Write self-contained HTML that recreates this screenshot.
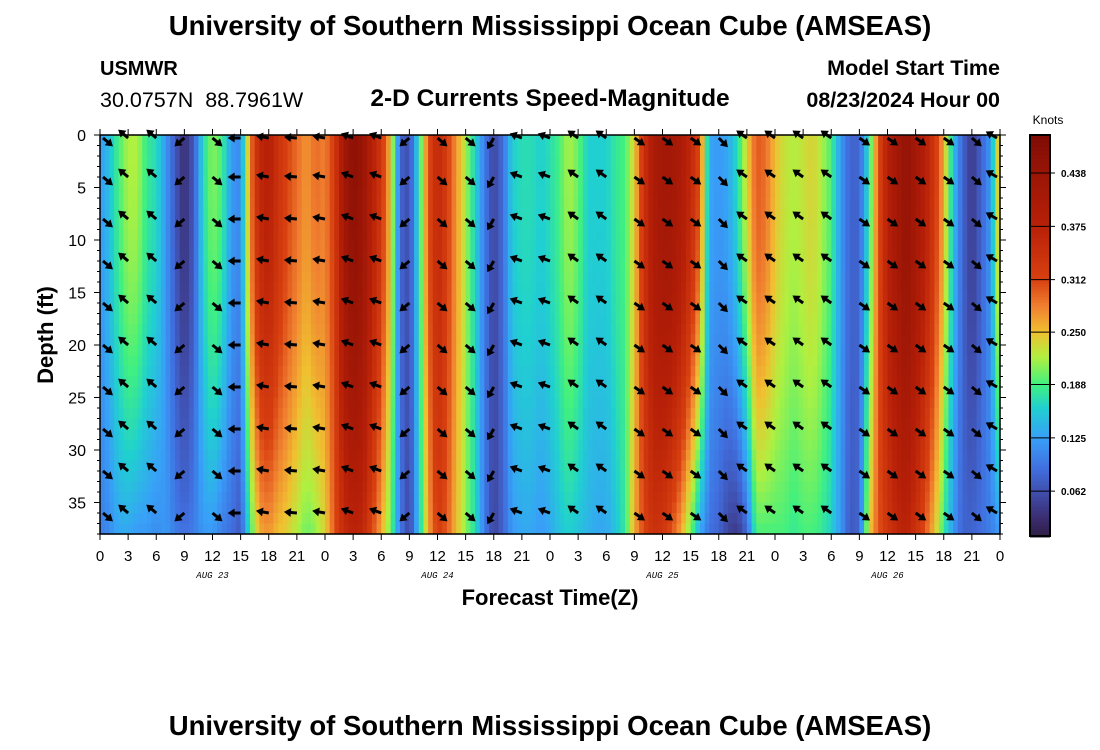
<!DOCTYPE html>
<html><head><meta charset="utf-8">
<style>
body{margin:0;background:#fff;width:1100px;height:750px;overflow:hidden;font-family:"Liberation Sans",sans-serif;}
svg{display:block}
</style></head>
<body>
<svg id="chart" width="1100" height="750">
<g font-family="Liberation Sans, sans-serif" fill="#000">
<text x="550" y="35" text-anchor="middle" font-size="27.5" font-weight="bold">University of Southern Mississippi Ocean Cube (AMSEAS)</text>
<text x="100" y="75" font-size="20" font-weight="bold">USMWR</text>
<text x="100" y="107" font-size="21.5" xml:space="preserve">30.0757N  88.7961W</text>
<text x="550" y="106" text-anchor="middle" font-size="24.5" font-weight="bold">2-D Currents Speed-Magnitude</text>
<text x="1000" y="75" text-anchor="end" font-size="21.5" font-weight="bold">Model Start Time</text>
<text x="1000" y="107" text-anchor="end" font-size="21.5" font-weight="bold">08/23/2024 Hour 00</text>
<text x="550" y="605" text-anchor="middle" font-size="22" font-weight="bold">Forecast Time(Z)</text>
<text transform="translate(53,335) rotate(-90)" text-anchor="middle" font-size="22" font-weight="bold">Depth (ft)</text>
<text x="550" y="735" text-anchor="middle" font-size="27.5" font-weight="bold">University of Southern Mississippi Ocean Cube (AMSEAS)</text>
<text x="1048" y="124" text-anchor="middle" font-size="12">Knots</text>
</g>
<g id="heat"></g>
<g id="arrows"></g>
<g id="axes"></g>
<g id="cbar"></g>
</svg>
<script>
// speed (knots) per forecast hour 0..96, near surface and near bottom
const hours = Array.from({length:97},(_, i)=>i);
const speedTop = [0.12,0.15,0.19,0.22,0.22,0.18,0.17,0.12,0.07,0.03,0.07,0.17,0.21,0.19,0.12,0.11,
 0.28,0.36,0.38,0.34,0.31,0.29,0.27,0.29,0.28,0.32,0.42,0.46,0.44,0.38,0.33,0.25,0.08,0.06,0.17,0.30,
 0.36,0.32,0.27,0.22,0.16,0.10,0.05,0.09,0.16,0.17,0.17,0.16,
 0.17,0.19,0.22,0.20,0.16,0.16,0.16,0.18,0.19,0.24,0.34,0.40,0.42,0.42,0.40,0.36,0.30,0.13,0.12,0.13,
 0.17,0.24,0.30,0.29,0.25,0.23,0.22,0.23,0.24,0.22,0.19,0.12,0.08,0.08,0.17,0.30,0.38,0.42,0.45,0.42,
 0.38,0.33,0.26,0.15,0.08,0.04,0.08,0.12,0.28];
const speedBottom = [0.10,0.11,0.13,0.13,0.12,0.12,0.11,0.12,0.10,0.09,0.10,0.12,0.12,0.10,0.09,0.07,
 0.18,0.26,0.27,0.25,0.24,0.22,0.20,0.21,0.24,0.30,0.35,0.37,0.36,0.31,0.26,0.20,0.10,0.05,0.15,0.26,
 0.32,0.30,0.25,0.21,0.17,0.10,0.05,0.08,0.12,0.13,0.13,0.12,
 0.13,0.15,0.16,0.15,0.14,0.13,0.13,0.15,0.18,0.26,0.31,0.34,0.33,0.30,0.26,0.20,0.13,0.09,0.08,0.05,
 0.04,0.08,0.19,0.19,0.19,0.19,0.18,0.19,0.19,0.18,0.16,0.12,0.07,0.08,0.24,0.30,0.33,0.36,0.37,0.34,
 0.30,0.25,0.18,0.12,0.08,0.08,0.09,0.10,0.12];
// arrow direction (degrees, math convention) per 3-hour column 0..96
const arrowHours = [0,3,6,9,12,15,18,21,24,27,30,33,36,39,42,45,48,51,54,57,60,63,66,69,72,75,78,81,84,87,90,93,96];
const arrowDir = [-40,140,140,220,-40,180,170,175,170,160,160,220,-40,-40,240,160,160,145,145,-35,-35,-35,-45,145,145,145,145,-35,-35,-35,-35,-40,150];
const arrowDepths = [0,4,8,12,16,20,24,28,32,36];
const yTicks = [0,5,10,15,20,25,30,35];
const xTickLabels = ["0","3","6","9","12","15","18","21","0","3","6","9","12","15","18","21","0","3","6","9","12","15","18","21","0","3","6","9","12","15","18","21","0"];
const dayLabels = ["AUG 23","AUG 24","AUG 25","AUG 26"];
const dayHours = [12,36,60,84];
const cbarTicks = [0.062,0.125,0.188,0.250,0.312,0.375,0.438];

const NS="http://www.w3.org/2000/svg";
const X0=100,X1=1000,Y0=135,Y1=534,DMAX=38,HMAX=96;
const xs=h=>X0+(X1-X0)*h/HMAX;
const ys=d=>Y0+(Y1-Y0)*d/DMAX;
// colormap stops
const cmapV=[0.005,0.03,0.062,0.09,0.125,0.16,0.188,0.22,0.25,0.28,0.312,0.375,0.438,0.49];
const cmapC=[[46,26,64],[58,45,112],[64,80,176],[64,112,224],[56,160,248],[32,208,208],[64,240,128],[176,240,64],[240,192,48],[240,128,48],[216,64,16],[184,32,8],[154,21,6],[122,10,5]];
function cmap(v){
 if(v<=cmapV[0])return `rgb(${cmapC[0]})`;
 for(let i=1;i<cmapV.length;i++){if(v<=cmapV[i]){const f=(v-cmapV[i-1])/(cmapV[i]-cmapV[i-1]);
  const c=cmapC[i-1].map((a,k)=>Math.round(a+(cmapC[i][k]-a)*f));return `rgb(${c})`;}}
 return `rgb(${cmapC[cmapC.length-1]})`;}
function mk(tag,attrs,parent){const e=document.createElementNS(NS,tag);for(const k in attrs)e.setAttribute(k,attrs[k]);parent.appendChild(e);return e;}

const heat=document.getElementById('heat');
const SUB=2;
for(let i=0;i<HMAX*SUB;i++){
 const h=(i+0.5)/SUB, h0=Math.floor(h), f=h-h0, h1=Math.min(HMAX,h0+1);
 const top=speedTop[h0]*(1-f)+speedTop[h1]*f;
 const bot=speedBottom[h0]*(1-f)+speedBottom[h1]*f;
 for(let d=0;d<DMAX;d++){
  const t=Math.pow((d+0.5)/DMAX,2);
  const v=top+(bot-top)*t;
  const r=mk('rect',{x:xs(i/SUB).toFixed(2),y:ys(d).toFixed(2),width:(xs(1/SUB)-X0+0.6).toFixed(2),height:(ys(1)-Y0+0.6).toFixed(2),fill:cmap(v)},heat);
  
  
 }
}
const arrows=document.getElementById('arrows');
arrowHours.forEach((h,i)=>{arrowDepths.forEach(d=>{
 const a=arrowDir[i]*Math.PI/180, L=13;
 const x0=xs(h)+(h===0?3:h===96?-3:0), y0=ys(d)+(d===0?3:0);
 const x1=x0+L*Math.cos(a), y1=y0-L*Math.sin(a);
 const g=mk('g',{},arrows);
 
 
 const ux=Math.cos(a),uy=-Math.sin(a);
 mk('line',{x1:x0,y1:y0,x2:x1-ux*4,y2:y1-uy*4,stroke:'#000','stroke-width':3},g);
 const px=-uy,py=ux;
 mk('polygon',{points:`${x1},${y1} ${x1-ux*7+px*4.5},${y1-uy*7+py*4.5} ${x1-ux*7-px*4.5},${y1-uy*7-py*4.5}`,fill:'#000'},g);
});});

const axes=document.getElementById('axes');
mk('rect',{x:X0,y:Y0,width:X1-X0,height:Y1-Y0,fill:'none',stroke:'#000','stroke-width':1.5},axes);
for(let d=0;d<=DMAX;d++){const y=ys(d);const maj=d%5===0;
 mk('line',{x1:X0-(maj?6:3),y1:y,x2:X0,y2:y,stroke:'#000','stroke-width':1},axes);
 mk('line',{x1:X1,y1:y,x2:X1+(maj?6:3),y2:y,stroke:'#000','stroke-width':1},axes);}
yTicks.forEach(d=>{const t=mk('text',{x:X0-14,y:ys(d)+6,'text-anchor':'end','font-size':16,'font-family':'Liberation Sans, sans-serif'},axes);t.textContent=d;
 });
xTickLabels.forEach((lab,i)=>{const h=i*3,x=xs(h);
 mk('line',{x1:x,y1:Y0-6,x2:x,y2:Y0,stroke:'#000','stroke-width':1},axes);
 mk('line',{x1:x,y1:Y1,x2:x,y2:Y1+6,stroke:'#000','stroke-width':1},axes);
 const t=mk('text',{x:x,y:561,'text-anchor':'middle','font-size':15,'font-family':'Liberation Sans, sans-serif'},axes);t.textContent=lab;
 });
dayLabels.forEach((lab,i)=>{const t=mk('text',{x:xs(dayHours[i]),y:578,'text-anchor':'middle','font-size':9,'font-style':'italic','font-family':'Liberation Mono, monospace'},axes);t.textContent=lab;
 });

const cb=document.getElementById('cbar');
const CX=1030,CW=20,CY0=135,CY1=536;
const cy=v=>543.6-v*846;
for(let y=CY0;y<CY1;y+=2){const v=(543.6-(y+1))/846;mk('rect',{x:CX,y:y,width:CW,height:2.5,fill:cmap(v)},cb);}
mk('rect',{x:CX,y:CY0,width:CW,height:CY1-CY0,fill:'none',stroke:'#000','stroke-width':2},cb);
cbarTicks.forEach(v=>{const y=cy(v);
 mk('line',{x1:CX,y1:y,x2:CX+CW+5,y2:y,stroke:'#000','stroke-width':1},cb);
 const t=mk('text',{x:CX+CW+11,y:y+4,'font-size':10,'font-weight':'bold','font-family':'Liberation Sans, sans-serif'},cb);t.textContent=v.toFixed(3);
 });
</script>
</body></html>
